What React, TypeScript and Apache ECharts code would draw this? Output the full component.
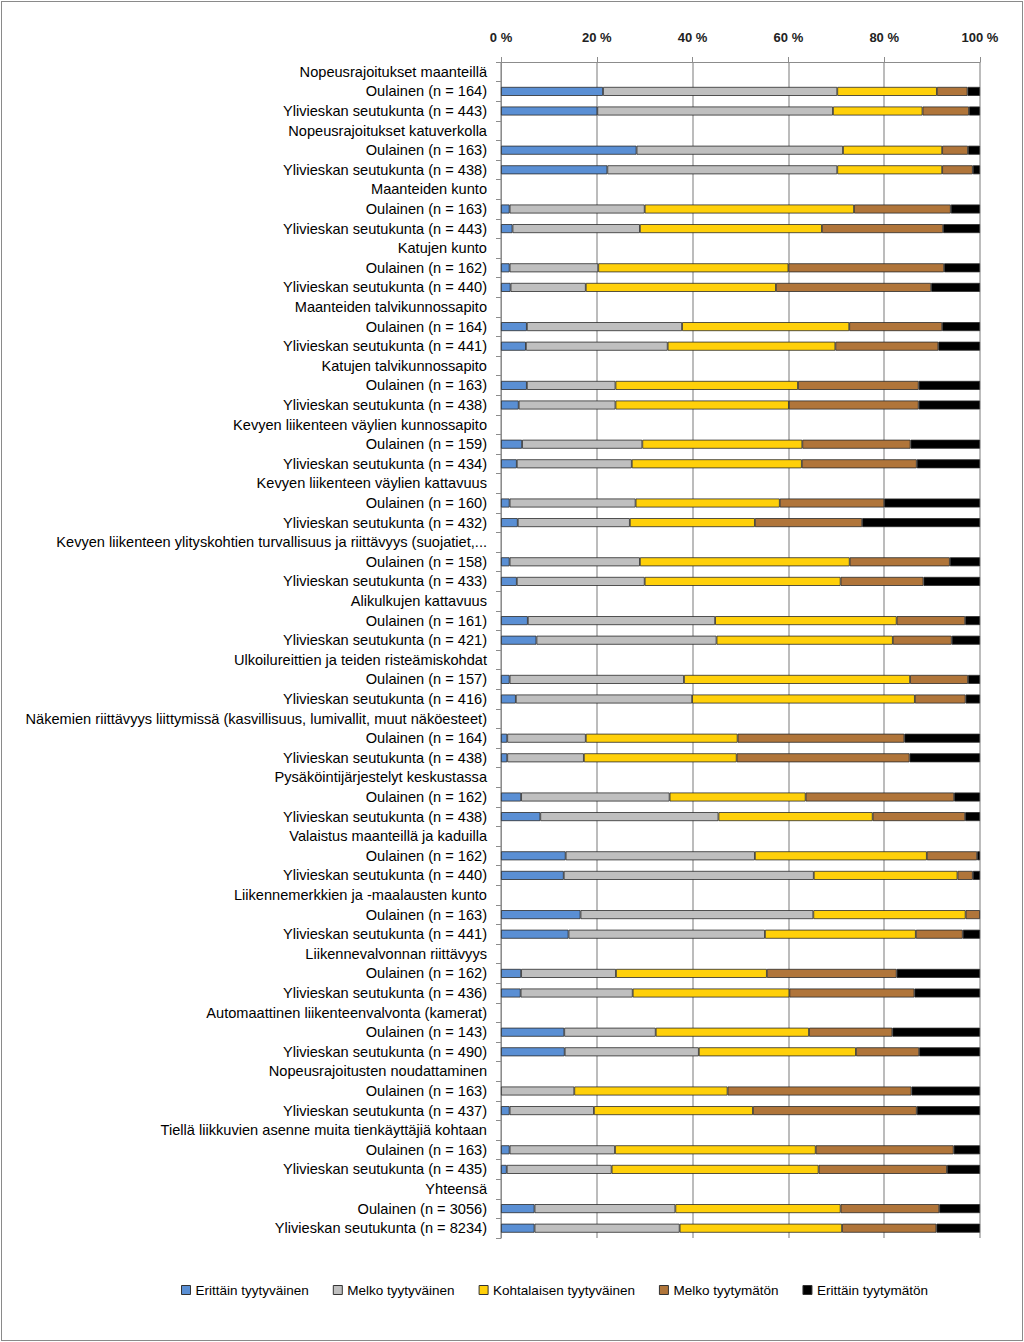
import React, { useEffect, useRef } from "react";
import * as echarts from "echarts";

const groups = [
  "Nopeusrajoitukset maanteillä",
  "Nopeusrajoitukset katuverkolla",
  "Maanteiden kunto",
  "Katujen kunto",
  "Maanteiden talvikunnossapito",
  "Katujen talvikunnossapito",
  "Kevyen liikenteen väylien kunnossapito",
  "Kevyen liikenteen väylien kattavuus",
  "Kevyen liikenteen ylityskohtien turvallisuus ja riittävyys (suojatiet,...",
  "Alikulkujen kattavuus",
  "Ulkoilureittien ja teiden risteämiskohdat",
  "Näkemien riittävyys liittymissä (kasvillisuus, lumivallit, muut näköesteet)",
  "Pysäköintijärjestelyt keskustassa",
  "Valaistus maanteillä ja kaduilla",
  "Liikennemerkkien ja -maalausten kunto",
  "Liikennevalvonnan riittävyys",
  "Automaattinen liikenteenvalvonta (kamerat)",
  "Nopeusrajoitusten noudattaminen",
  "Tiellä liikkuvien asenne muita tienkäyttäjiä kohtaan",
  "Yhteensä",
];

const nOulainen = [164, 163, 163, 162, 164, 163, 159, 160, 158, 161, 157, 164, 162, 162, 163, 162, 143, 163, 163, 3056];
const nYlivieska = [443, 438, 443, 440, 441, 438, 434, 432, 433, 421, 416, 438, 438, 440, 441, 436, 490, 437, 435, 8234];

const seriesNames = [
  "Erittäin tyytyväinen",
  "Melko tyytyväinen",
  "Kohtalaisen tyytyväinen",
  "Melko tyytymätön",
  "Erittäin tyytymätön",
];

// rows in order: group1 Oulainen, group1 Ylivieska, group2 Oulainen, ...
const erittainTyytyvainen = [
  21.3, 20.1, 28.3, 22.2, 1.8, 2.4, 1.8, 2.0, 5.4, 5.2,
  5.4, 3.7, 4.4, 3.3, 1.8, 3.5, 1.8, 3.3, 5.6, 7.4,
  1.8, 3.1, 1.3, 1.3, 4.2, 8.2, 13.5, 13.1, 16.6, 14.1,
  4.2, 4.1, 13.2, 13.3, 0, 1.8, 1.8, 1.2, 7.0, 7.0,
];
const melkoTyytyvainen = [
  48.9, 49.2, 43.1, 48.0, 28.2, 26.6, 18.5, 15.7, 32.4, 29.6,
  18.5, 20.2, 25.1, 24.0, 26.3, 23.4, 27.2, 26.7, 39.1, 37.6,
  36.4, 36.8, 16.4, 16.0, 31.0, 37.2, 39.5, 52.2, 48.6, 41.0,
  19.8, 23.4, 19.1, 28.0, 15.3, 17.6, 22.0, 21.9, 29.4, 30.3,
];
const kohtalaisenTyytyvainen = [
  20.8, 18.7, 20.7, 21.9, 43.7, 38.0, 39.7, 39.7, 34.9, 35.0,
  38.1, 36.2, 33.4, 35.5, 30.1, 26.1, 43.8, 40.9, 37.9, 36.8,
  47.2, 46.5, 31.7, 31.9, 28.4, 32.2, 35.9, 30.0, 31.8, 31.5,
  31.5, 32.7, 32.0, 32.8, 32.0, 33.2, 41.9, 43.2, 34.5, 33.9,
];
const melkoTyytymaton = [
  6.4, 9.7, 5.4, 6.4, 20.2, 25.3, 32.5, 32.4, 19.4, 21.5,
  25.2, 27.1, 22.6, 24.0, 21.8, 22.4, 20.9, 17.3, 14.3, 12.3,
  12.1, 10.6, 34.8, 36.1, 31.0, 19.3, 10.5, 3.2, 3.0, 9.8,
  27.1, 26.1, 17.4, 13.2, 38.4, 34.2, 28.8, 26.8, 20.6, 19.7,
];
const erittainTyytymaton = [
  2.6, 2.3, 2.5, 1.5, 6.1, 7.7, 7.5, 10.2, 7.9, 8.7,
  12.8, 12.8, 14.5, 13.2, 20.0, 24.6, 6.3, 11.8, 3.1, 5.9,
  2.5, 3.0, 15.8, 14.7, 5.4, 3.1, 0.6, 1.5, 0, 3.6,
  17.4, 13.7, 18.3, 12.7, 14.3, 13.2, 5.5, 6.9, 8.5, 9.1,
];

const xTicks = [0, 20, 40, 60, 80, 100];

const colors = ["#5a8fd4", "#bfbfbf", "#ffd00a", "#b0753a", "#000000"];

export default function App() {
  const ref = useRef<HTMLDivElement>(null);

  useEffect(() => {
    if (!ref.current) return;
    const chart = echarts.init(ref.current, null, { renderer: "svg" });

    const categories: string[] = [];
    groups.forEach((g, i) => {
      categories.push(g);
      categories.push(`Oulainen (n = ${nOulainen[i]})`);
      categories.push(`Ylivieskan seutukunta (n = ${nYlivieska[i]})`);
    });

    const allSeries = [
      erittainTyytyvainen,
      melkoTyytyvainen,
      kohtalaisenTyytyvainen,
      melkoTyytymaton,
      erittainTyytymaton,
    ];

    const buildRows = (vals: number[]) => {
      const out: (number | string)[] = [];
      groups.forEach((_, i) => {
        out.push("-");
        const a = vals[i * 2];
        const b = vals[i * 2 + 1];
        out.push(a === 0 ? "-" : a);
        out.push(b === 0 ? "-" : b);
      });
      return out;
    };

    chart.setOption({
      animation: false,
      backgroundColor: "transparent",
      textStyle: { fontFamily: "Liberation Sans" },
      grid: { left: 501, right: 44, top: 62, height: 1176, containLabel: false },
      legend: {
        bottom: 40,
        left: 176,
        itemWidth: 9,
        itemHeight: 9,
        itemGap: 24,
        icon: "rect",
        textStyle: { fontSize: 13.5, color: "#000", fontFamily: "Liberation Sans" },
        data: seriesNames.map((n, i) => ({
          name: n,
          itemStyle: { color: colors[i], borderColor: "#333", borderWidth: 1 },
        })),
      },
      xAxis: {
        type: "value",
        position: "top",
        min: xTicks[0],
        max: xTicks[xTicks.length - 1],
        interval: 20,
        axisLine: { show: true, lineStyle: { color: "#8c8c8c", width: 1 } },
        axisTick: { show: true, length: 5, lineStyle: { color: "#8c8c8c" } },
        splitLine: { show: true, lineStyle: { color: "#a6a6a6", width: 1.5 } },
        axisLabel: {
          formatter: "{value} %",
          fontSize: 13,
          fontWeight: "bold",
          color: "#222",
          margin: 18,
        },
      },
      yAxis: {
        type: "category",
        inverse: true,
        data: categories,
        axisLine: { show: true, lineStyle: { color: "#8c8c8c" } },
        axisTick: { show: true, length: 5, interval: 0, lineStyle: { color: "#8c8c8c" } },
        axisLabel: { interval: 0, fontSize: 14.6, color: "#000", margin: 14, fontFamily: "Liberation Sans" },
      },
      series: allSeries.map((vals, i) => ({
        name: seriesNames[i],
        type: "bar",
        stack: "total",
        barWidth: 9,
        data: buildRows(vals),
        itemStyle: { color: colors[i], borderColor: "#2b2b2b", borderWidth: 0.8 },
      })),
    });

    return () => chart.dispose();
  }, []);

  return (
    <div
      style={{
        position: "absolute",
        left: 0,
        top: 0,
        width: 1024,
        height: 1342,
        background: "#fff",
      }}
    >
      <div ref={ref} style={{ position: "absolute", left: 0, top: 0, width: 1024, height: 1342 }} />
      <div
        style={{
          position: "absolute",
          left: 1,
          top: 1,
          width: 1022,
          height: 1340,
          boxSizing: "border-box",
          border: "1px solid #8a8a8a",
          pointerEvents: "none",
        }}
      />
    </div>
  );
}
